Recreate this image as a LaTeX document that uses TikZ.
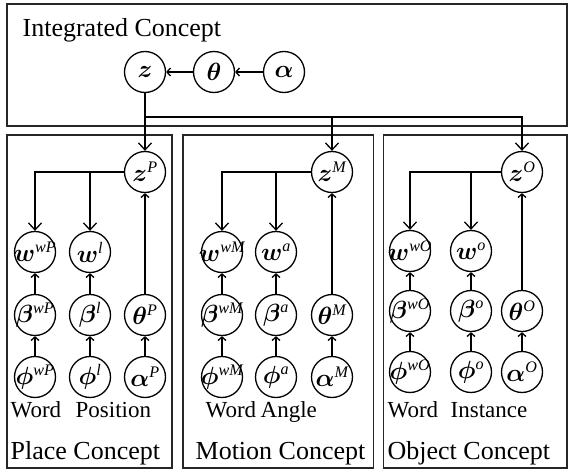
\documentclass[tikz,border=0pt]{standalone}
\usepackage{fontspec}
\setmainfont{Liberation Serif}
\usepackage{amsmath}
\usepackage{bm}
\usetikzlibrary{arrows.meta}

% variable label, kept from widening its circle
\newcommand{\vlab}[2]{\makebox[0pt]{$\bm{#1}^{\textit{#2}}$}}

\tikzset{
  var/.style={circle,draw,line width=1.3pt,minimum size=41pt,inner sep=0pt,
    font=\fontsize{23}{25}\selectfont},
  frame/.style={draw=black!85,line width=1.2pt},
  bigarr/.style={-{Straight Barb[length=7pt,width=13pt]}},
  smallarr/.style={-{Straight Barb[length=3.5pt,width=8pt]}},
  boxtitle/.style={anchor=base west,inner sep=0pt,font=\fontsize{26}{28}\selectfont},
  coltag/.style={anchor=base west,inner sep=0pt,font=\fontsize{23}{25}\selectfont},
}

\begin{document}
\begin{tikzpicture}[x=1pt, y=-1pt, line width=1.3pt]
    \useasboundingbox (0,0) rectangle (568,471);

    % integrated concept
    \draw[frame] (7,4) rectangle (567,126);
    \node[boxtitle] (intname) at (22,36) {Integrated Concept};
    \node[var] (z) at (145,72) {\makebox[0pt]{$\bm{z}$}};
    \node[var] (th) at (214,72) {\makebox[0pt]{$\bm{\theta}$}};
    \node[var] (al) at (284,72) {\makebox[0pt]{$\bm{\alpha}$}};
    \draw[smallarr] (th) -- (z);
    \draw[smallarr] (al) -- (th);
    \coordinate (bus) at (145,117);

    % place concept
    \draw[frame] (7,135) rectangle (172,468);
    \node[var] (zP) at (145,172) {\vlab{z}{P}};
    \node[var] (wwP) at (35,252) {\vlab{w}{wP}};
    \node[var] (wl) at (90,252) {\vlab{w}{l}};
    \node[var] (bwP) at (35,315) {\vlab{\beta}{wP}};
    \node[var] (bl) at (90,315) {\vlab{\beta}{l}};
    \node[var] (thP) at (145,315) {\vlab{\theta}{P}};
    \node[var] (pwP) at (35,377) {\vlab{\phi}{wP}};
    \node[var] (pl) at (90,377) {\vlab{\phi}{l}};
    \node[var] (aP) at (145,377) {\vlab{\alpha}{P}};
    \draw[bigarr] (zP) -| (wwP);
    \draw[bigarr] (zP) -| (wl);
    \draw[smallarr] (bwP) -- (wwP); \draw[smallarr] (pwP) -- (bwP);
    \draw[smallarr] (bl) -- (wl); \draw[smallarr] (pl) -- (bl);
    \draw[smallarr] (thP) -- (zP); \draw[smallarr] (aP) -- (thP);
    \node[coltag] (wordP) at (10,417) {Word};
    \node[coltag] (posP) at (75,417) {Position};
    \node[boxtitle] (plcname) at (10,459) {Place Concept};

    % motion concept
    \draw[frame] (183,135) rectangle (373.5,468);
    \node[var] (zM) at (332,172) {\vlab{z}{M}};
    \node[var] (wwM) at (222,252) {\vlab{w}{wM}};
    \node[var] (wa) at (276,252) {\vlab{w}{a}};
    \node[var] (bwM) at (222,315) {\vlab{\beta}{wM}};
    \node[var] (ba) at (276,315) {\vlab{\beta}{a}};
    \node[var] (thM) at (332,315) {\vlab{\theta}{M}};
    \node[var] (pwM) at (222,377) {\vlab{\phi}{wM}};
    \node[var] (pa) at (276,377) {\vlab{\phi}{a}};
    \node[var] (aM) at (332,377) {\vlab{\alpha}{M}};
    \draw[bigarr] (zM) -| (wwM);
    \draw[bigarr] (zM) -| (wa);
    \draw[smallarr] (bwM) -- (wwM); \draw[smallarr] (pwM) -- (bwM);
    \draw[smallarr] (ba) -- (wa); \draw[smallarr] (pa) -- (ba);
    \draw[smallarr] (thM) -- (zM); \draw[smallarr] (aM) -- (thM);
    \node[coltag] (wordM) at (205,417) {Word};
    \node[coltag] (angM) at (260,417) {Angle};
    \node[boxtitle] (motname) at (195,459) {Motion Concept};

    % object concept
    \draw[frame] (383.5,135) rectangle (567,468);
    \node[var] (zO) at (522,172) {\vlab{z}{O}};
    \node[var] (wwO) at (410,251) {\vlab{w}{wO}};
    \node[var] (wo) at (471,251) {\vlab{w}{o}};
    \node[var] (bwO) at (410,311) {\vlab{\beta}{wO}};
    \node[var] (bo) at (471,311) {\vlab{\beta}{o}};
    \node[var] (thO) at (522,311) {\vlab{\theta}{O}};
    \node[var] (pwO) at (410,372) {\vlab{\phi}{wO}};
    \node[var] (po) at (471,372) {\vlab{\phi}{o}};
    \node[var] (aO) at (522,372) {\vlab{\alpha}{O}};
    \draw[bigarr] (zO) -| (wwO);
    \draw[bigarr] (zO) -| (wo);
    \draw[smallarr] (bwO) -- (wwO); \draw[smallarr] (pwO) -- (bwO);
    \draw[smallarr] (bo) -- (wo); \draw[smallarr] (po) -- (bo);
    \draw[smallarr] (thO) -- (zO); \draw[smallarr] (aO) -- (thO);
    \node[coltag] (wordO) at (387,417) {Word};
    \node[coltag] (instO) at (450,417) {Instance};
    \node[boxtitle] (objname) at (387,459) {Object Concept};

    % links from the integrated concept
    \draw[bigarr] (z) -- (zP);
    \draw[bigarr] (bus) -| (zM);
    \draw[bigarr] (bus) -| (zO);
\end{tikzpicture}
\end{document}
